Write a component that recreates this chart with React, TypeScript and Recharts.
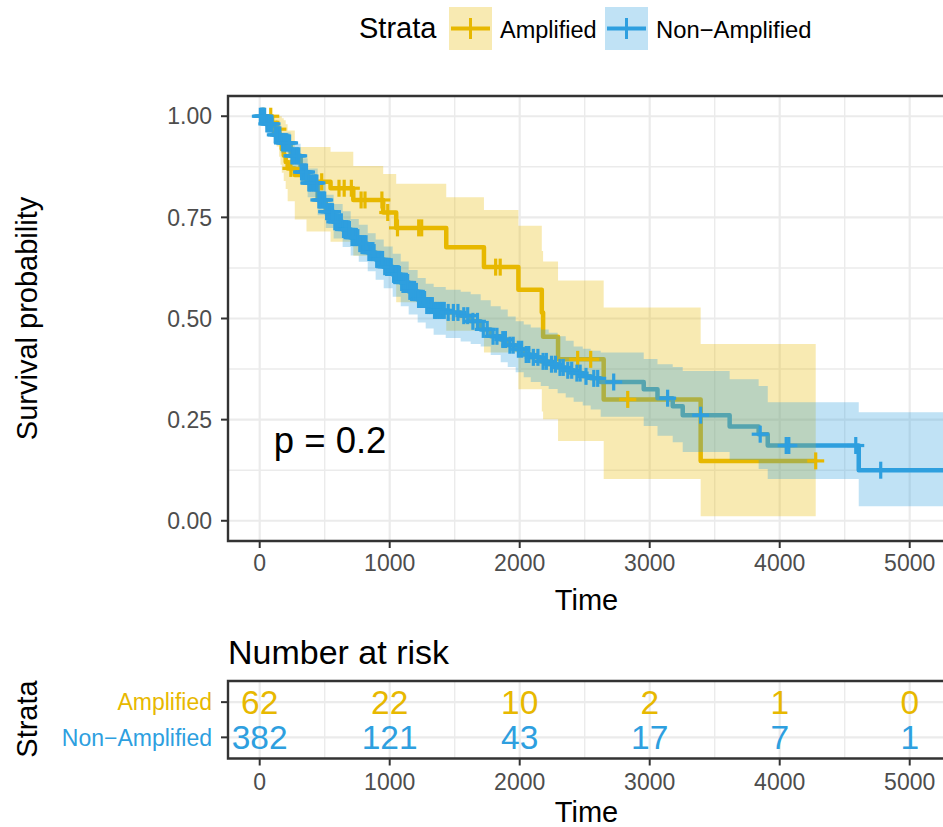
import React from 'react';
import { ComposedChart, Line, Area, Scatter, XAxis, YAxis, ReferenceLine, ReferenceArea } from 'recharts';

const FONT = '"Liberation Sans", Arial, Helvetica, sans-serif';
const AMP = '#E7B800';
const NON = '#2E9FDF';
const GRID = '#EBEBEB';
const DARK = '#333333';
const TICKTXT = '#4D4D4D';

// ---------- axes ----------
const X_DOMAIN: [number, number] = [-243.8, 5271.5];
const xTicks = [0, 1000, 2000, 3000, 4000, 5000];
const xMinor = [500, 1500, 2500, 3500, 4500];
const yTicks = [0, 0.25, 0.5, 0.75, 1];
const yMinor = [0.125, 0.375, 0.625, 0.875];

const strataNames = ['Amplified', 'Non\u2212Amplified'];
const pvalLabel = 'p = 0.2';
const pvalPos = { t: 108, v: 0.2 };

// ---------- Amplified ----------
const ampTime = [0, 95, 130, 150, 160, 170, 185, 200, 215, 270, 360, 545, 720, 950, 1050, 1435, 1725, 1990, 2170, 2180, 2295, 2646, 3392, 4277];
const ampSurv = [1, 0.984, 0.968, 0.952, 0.935, 0.919, 0.903, 0.887, 0.871, 0.855, 0.838, 0.822, 0.793, 0.762, 0.724, 0.676, 0.627, 0.571, 0.515, 0.455, 0.399, 0.3, 0.148, 0.148];
const ampUpper = [1, 1, 1, 1, 1, 0.995, 0.99, 0.98, 0.965, 0.924, 0.924, 0.912, 0.877, 0.857, 0.833, 0.8, 0.768, 0.729, 0.667, 0.641, 0.594, 0.527, 0.437, 0.437];
const ampLower = [1, 0.953, 0.925, 0.9, 0.88, 0.86, 0.84, 0.82, 0.79, 0.745, 0.715, 0.69, 0.655, 0.61, 0.54, 0.47, 0.416, 0.325, 0.27, 0.251, 0.197, 0.103, 0.011, 0.011];
const ampCensT = [30, 85, 140, 240, 477, 610, 650, 705, 780, 810, 940, 985, 1060, 1223, 1246, 1815, 1850, 2446, 2546, 2831, 4277];
const ampCensS = [1, 1, 0.968, 0.871, 0.838, 0.822, 0.822, 0.822, 0.793, 0.793, 0.793, 0.762, 0.724, 0.724, 0.724, 0.627, 0.627, 0.399, 0.399, 0.3, 0.148];

// ---------- Non-Amplified ----------
const nonTime = [0, 46, 108, 162, 238, 315, 369, 446, 508, 569, 638, 700, 762, 831, 892, 954, 1023, 1085, 1146, 1215, 1277, 1338, 1431, 1546, 1623, 1700, 1777, 1854, 1908, 1969, 2031, 2085, 2162, 2223, 2292, 2354, 2415, 2485, 2546, 2623, 2954, 3060, 3177, 3254, 3615, 3838, 3908, 4608, 5271.5];
const nonSurv = [1, 0.981, 0.954, 0.934, 0.902, 0.862, 0.835, 0.793, 0.764, 0.739, 0.72, 0.7, 0.685, 0.663, 0.646, 0.628, 0.609, 0.589, 0.567, 0.547, 0.532, 0.52, 0.515, 0.507, 0.493, 0.473, 0.456, 0.448, 0.434, 0.424, 0.411, 0.404, 0.394, 0.387, 0.379, 0.372, 0.365, 0.357, 0.352, 0.343, 0.325, 0.303, 0.283, 0.261, 0.233, 0.214, 0.186, 0.125, 0.125];
const nonUpper = [1, 1, 0.976, 0.96, 0.932, 0.896, 0.871, 0.833, 0.806, 0.783, 0.765, 0.746, 0.732, 0.711, 0.695, 0.678, 0.66, 0.641, 0.62, 0.6, 0.586, 0.578, 0.571, 0.566, 0.56, 0.545, 0.53, 0.522, 0.505, 0.493, 0.485, 0.478, 0.473, 0.465, 0.456, 0.445, 0.431, 0.425, 0.42, 0.416, 0.4, 0.387, 0.38, 0.37, 0.35, 0.333, 0.293, 0.268, 0.268];
const nonLower = [1, 0.967, 0.933, 0.91, 0.873, 0.83, 0.8, 0.755, 0.724, 0.698, 0.677, 0.656, 0.64, 0.617, 0.596, 0.575, 0.554, 0.53, 0.51, 0.49, 0.475, 0.46, 0.452, 0.443, 0.437, 0.431, 0.41, 0.392, 0.38, 0.367, 0.355, 0.343, 0.333, 0.326, 0.315, 0.305, 0.294, 0.285, 0.275, 0.257, 0.234, 0.21, 0.194, 0.17, 0.15, 0.128, 0.103, 0.036, 0.036];
const nonCensT = [
  5, 15, 20, 30, 38,
  55, 65, 75, 85, 95,
  120, 130, 145, 155,
  175, 190, 200, 210, 220, 230,
  248, 255, 268, 280, 290, 300,
  322, 330, 340, 350, 360,
  378, 385, 398, 410, 420, 430, 440,
  455, 465, 478, 490, 500,
  515, 525, 538, 550, 560,
  578, 590, 600, 615, 628,
  645, 655, 668, 680, 690,
  710, 720, 732, 745, 755,
  770, 780, 792, 805, 818,
  840, 850, 860, 870, 880,
  900, 910, 922, 935, 945,
  962, 975, 988, 1000, 1012,
  1030, 1040, 1052, 1065, 1075,
  1092, 1100, 1112, 1125, 1138,
  1155, 1165, 1178, 1190, 1205,
  1222, 1230, 1242, 1255, 1268,
  1285, 1295, 1305, 1315, 1328,
  1345, 1355, 1370, 1385, 1398, 1410, 1420,
  1450, 1490, 1525, 1570, 1600, 1640, 1675, 1720, 1750, 1795, 1825, 1870, 1890, 1925, 1950, 1990, 2015, 2050, 2070, 2105, 2140, 2180, 2205, 2245, 2275, 2310, 2335, 2370, 2400, 2440, 2465, 2510, 2570, 2600, 2723, 3138, 3392, 3850, 4050, 4070, 4585, 4777,
];
const nonCensS = [
  1, 1, 1, 1, 1,
  0.981, 0.981, 0.981, 0.981, 0.981,
  0.954, 0.954, 0.954, 0.954,
  0.934, 0.934, 0.934, 0.934, 0.934, 0.934,
  0.902, 0.902, 0.902, 0.902, 0.902, 0.902,
  0.862, 0.862, 0.862, 0.862, 0.862,
  0.835, 0.835, 0.835, 0.835, 0.835, 0.835, 0.835,
  0.793, 0.793, 0.793, 0.793, 0.793,
  0.764, 0.764, 0.764, 0.764, 0.764,
  0.739, 0.739, 0.739, 0.739, 0.739,
  0.72, 0.72, 0.72, 0.72, 0.72,
  0.7, 0.7, 0.7, 0.7, 0.7,
  0.685, 0.685, 0.685, 0.685, 0.685,
  0.663, 0.663, 0.663, 0.663, 0.663,
  0.646, 0.646, 0.646, 0.646, 0.646,
  0.628, 0.628, 0.628, 0.628, 0.628,
  0.609, 0.609, 0.609, 0.609, 0.609,
  0.589, 0.589, 0.589, 0.589, 0.589,
  0.567, 0.567, 0.567, 0.567, 0.567,
  0.547, 0.547, 0.547, 0.547, 0.547,
  0.532, 0.532, 0.532, 0.532, 0.532,
  0.52, 0.52, 0.52, 0.52, 0.52, 0.52, 0.52,
  0.515, 0.515, 0.515, 0.507, 0.507, 0.493, 0.493, 0.473, 0.473, 0.456, 0.456, 0.448, 0.448, 0.434, 0.434, 0.424, 0.424, 0.411, 0.411, 0.404, 0.404, 0.394, 0.394, 0.387, 0.387, 0.379, 0.379, 0.372, 0.372, 0.365, 0.365, 0.357, 0.352, 0.352, 0.343, 0.303, 0.261, 0.214, 0.186, 0.186, 0.186, 0.125,
];

// ---------- risk table ----------
const riskTimes = [0, 1000, 2000, 3000, 4000, 5000];
const riskAmp = [62, 22, 10, 2, 1, 0];
const riskNon = [382, 121, 43, 17, 7, 1];
const riskRows = [2, 1];

// ---------- derived tables ----------
const ampLine = ampTime.map((t, i) => ({ t, v: ampSurv[i] }));
const ampBand = ampTime.map((t, i) => ({ t, lo: ampLower[i], hi: ampUpper[i] }));
const ampCens = ampCensT.map((t, i) => ({ t, v: ampCensS[i] }));
const nonLine = nonTime.map((t, i) => ({ t, v: nonSurv[i] }));
const nonBand = nonTime.map((t, i) => ({ t, lo: nonLower[i], hi: nonUpper[i] }));
const nonCens = nonCensT.map((t, i) => ({ t, v: nonCensS[i] }));
const pvalData = [{ t: pvalPos.t, v: pvalPos.v, label: pvalLabel }];
const riskAmpData = riskTimes.map((t, i) => ({ t, y: riskRows[0], n: riskAmp[i] }));
const riskNonData = riskTimes.map((t, i) => ({ t, y: riskRows[1], n: riskNon[i] }));

const makeCross = (color: string) => (props: any) => {
  const { cx, cy } = props;
  if (cx == null || cy == null) return <g />;
  const h = 8.5;
  return (
    <g>
      <line x1={cx - h} x2={cx + h} y1={cy} y2={cy} stroke={color} strokeWidth={3.2} />
      <line x1={cx} x2={cx} y1={cy - h} y2={cy + h} stroke={color} strokeWidth={3.2} />
    </g>
  );
};

const PvalShape = (props: any) => {
  const { cx, cy, payload } = props;
  if (cx == null) return <g />;
  return (
    <text x={cx} y={cy + 13} fontSize={36.5} fill="#000" textAnchor="start" fontFamily={FONT}>
      {payload.label}
    </text>
  );
};

const makeRiskText = (color: string) => (props: any) => {
  const { cx, cy, payload } = props;
  if (cx == null) return <g />;
  return (
    <text x={cx} y={cy + 12} fontSize={33.5} fill={color} textAnchor="middle" fontFamily={FONT}>
      {payload.n}
    </text>
  );
};

const RiskTick = (props: any) => {
  const { x, y, payload } = props;
  const isAmp = payload.value === riskRows[0];
  return (
    <text x={x} y={y} dy="0.355em" textAnchor="end" fontSize={23} fill={isAmp ? AMP : NON} fontFamily={FONT}>
      {isAmp ? strataNames[0] : strataNames[1]}
    </text>
  );
};

const gridV = (major: number[], minor: number[]) => [
  ...minor.map((v) => (
    <ReferenceLine key={'xm' + v} x={v} stroke={GRID} strokeWidth={1.4} zIndex={-100} ifOverflow="hidden" />
  )),
  ...major.map((v) => (
    <ReferenceLine key={'xM' + v} x={v} stroke={GRID} strokeWidth={2.2} zIndex={-100} ifOverflow="hidden" />
  )),
];

const tickStyle = { fontSize: 23, fill: TICKTXT, fontFamily: FONT };

export default function App() {
  return (
    <div style={{ position: 'absolute', left: 0, top: 0, width: 943, height: 827, overflow: 'hidden', background: '#fff', fontFamily: FONT }}>
      <div style={{ position: 'absolute', left: 0, top: 0 }}>
        <ComposedChart width={945} height={620} margin={{ top: 96, right: 0, bottom: 0, left: 0 }} style={{ fontFamily: FONT }}>
          {yMinor.map((v) => (
            <ReferenceLine key={'ym' + v} y={v} stroke={GRID} strokeWidth={1.4} zIndex={-100} />
          ))}
          {yTicks.map((v) => (
            <ReferenceLine key={'yM' + v} y={v} stroke={GRID} strokeWidth={2.2} zIndex={-100} />
          ))}
          {gridV(xTicks, xMinor)}
          <XAxis
            dataKey="t"
            type="number"
            domain={X_DOMAIN}
            allowDataOverflow
            ticks={xTicks}
            interval={0}
            height={79}
            tickSize={7}
            tickMargin={7}
            tick={tickStyle}
            axisLine={false}
            tickLine={{ stroke: DARK, strokeWidth: 2 }}
          />
          <YAxis
            dataKey="v"
            type="number"
            domain={[-0.05, 1.05]}
            allowDataOverflow
            ticks={yTicks}
            interval={0}
            width={228}
            tickSize={7}
            tickMargin={9}
            tick={tickStyle}
            tickFormatter={(v: number) => v.toFixed(2)}
            axisLine={false}
            tickLine={{ stroke: DARK, strokeWidth: 2 }}
          />
          <Line data={ampLine} dataKey="v" type="stepAfter" stroke={AMP} strokeWidth={4.5} strokeLinejoin="round" dot={false} activeDot={false} isAnimationActive={false} zIndex={50} />
          <Line data={nonLine} dataKey="v" type="stepAfter" stroke={NON} strokeWidth={4.5} strokeLinejoin="round" dot={false} activeDot={false} isAnimationActive={false} zIndex={50} />
          <Area data={ampBand} dataKey={(d: any) => [d.lo, d.hi]} type="stepAfter" stroke="none" fill={AMP} fillOpacity={0.3} isAnimationActive={false} dot={false} activeDot={false} />
          <Area data={nonBand} dataKey={(d: any) => [d.lo, d.hi]} type="stepAfter" stroke="none" fill={NON} fillOpacity={0.3} isAnimationActive={false} dot={false} activeDot={false} />
          <Scatter data={ampCens} shape={makeCross(AMP)} isAnimationActive={false} />
          <Scatter data={nonCens} shape={makeCross(NON)} isAnimationActive={false} />
          <Scatter data={pvalData} shape={PvalShape} isAnimationActive={false} />
          <ReferenceArea x1={X_DOMAIN[0]} x2={X_DOMAIN[1]} y1={-0.05} y2={1.05} fill="none" fillOpacity={0} stroke={DARK} strokeWidth={2.4} ifOverflow="visible" zIndex={1500} />
        </ComposedChart>
      </div>

      <div style={{ position: 'absolute', left: 0, top: 620 }}>
        <ComposedChart width={945} height={207} margin={{ top: 61, right: 0, bottom: 0, left: 0 }} style={{ fontFamily: FONT }}>
          {riskRows.map((v) => (
            <ReferenceLine key={'ry' + v} y={v} stroke={GRID} strokeWidth={2.2} zIndex={-100} />
          ))}
          {gridV(xTicks, xMinor)}
          <XAxis
            dataKey="t"
            type="number"
            domain={X_DOMAIN}
            allowDataOverflow
            ticks={xTicks}
            interval={0}
            height={68.5}
            tickSize={7}
            tickMargin={8}
            tick={tickStyle}
            axisLine={false}
            tickLine={{ stroke: DARK, strokeWidth: 2 }}
          />
          <YAxis
            dataKey="y"
            type="number"
            domain={[0.4, 2.6]}
            allowDataOverflow
            ticks={riskRows}
            interval={0}
            width={228}
            tickSize={7}
            tickMargin={9}
            tick={<RiskTick />}
            axisLine={false}
            tickLine={{ stroke: DARK, strokeWidth: 2 }}
          />
          <Scatter data={riskAmpData} shape={makeRiskText(AMP)} isAnimationActive={false} />
          <Scatter data={riskNonData} shape={makeRiskText(NON)} isAnimationActive={false} />
          <ReferenceArea x1={X_DOMAIN[0]} x2={X_DOMAIN[1]} y1={0.4} y2={2.6} fill="none" fillOpacity={0} stroke={DARK} strokeWidth={2.4} ifOverflow="visible" zIndex={1500} />
        </ComposedChart>
      </div>

      <svg width={943} height={827} style={{ position: 'absolute', left: 0, top: 0, pointerEvents: 'none' }} fontFamily={FONT}>
        <text x={359} y={38} fontSize={29} fill="#000">Strata</text>
        <rect x={449} y={7} width={43} height={43} fill={AMP} fillOpacity={0.3} />
        <line x1={451} x2={490} y1={28.5} y2={28.5} stroke={AMP} strokeWidth={4} />
        <line x1={470.5} x2={470.5} y1={18} y2={39} stroke={AMP} strokeWidth={3} />
        <text x={500} y={38} fontSize={23.5} fill="#000">{strataNames[0]}</text>
        <rect x={605} y={7} width={43} height={43} fill={NON} fillOpacity={0.3} />
        <line x1={607} x2={646} y1={28.5} y2={28.5} stroke={NON} strokeWidth={4} />
        <line x1={626.5} x2={626.5} y1={18} y2={39} stroke={NON} strokeWidth={3} />
        <text x={656} y={38} fontSize={23.8} fill="#000">{strataNames[1]}</text>
        <text x={37} y={318.5} fontSize={29} fill="#000" textAnchor="middle" transform="rotate(-90 37 318.5)">Survival probability</text>
        <text x={586.5} y={610} fontSize={29} fill="#000" textAnchor="middle">Time</text>
        <text x={228} y={664} fontSize={34} fill="#000">Number at risk</text>
        <text x={37} y={719} fontSize={29} fill="#000" textAnchor="middle" transform="rotate(-90 37 719)">Strata</text>
        <text x={586.5} y={822} fontSize={29} fill="#000" textAnchor="middle">Time</text>
      </svg>
    </div>
  );
}
